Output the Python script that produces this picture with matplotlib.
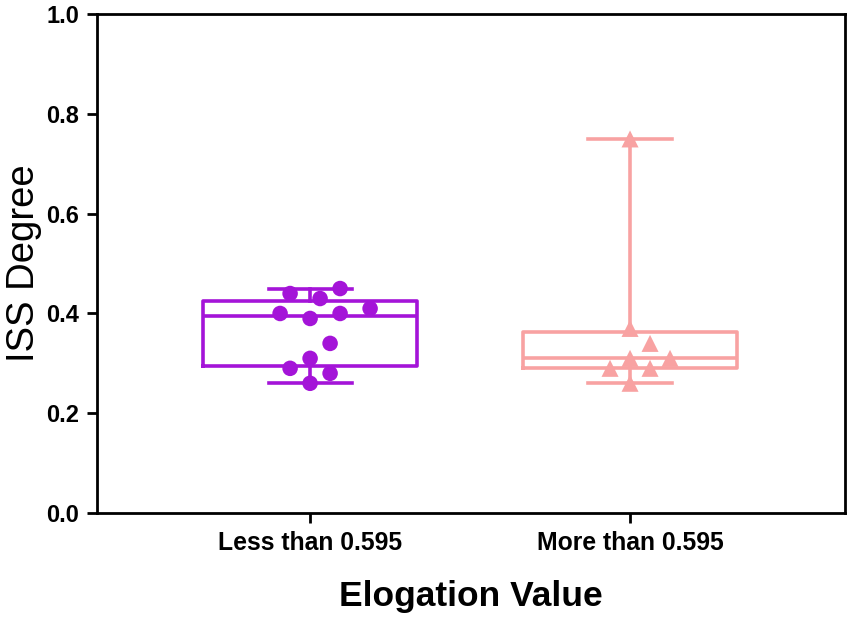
import matplotlib.pyplot as plt
import numpy as np

plt.rcParams["font.family"] = ["Liberation Sans", "DejaVu Sans"]

# data
groups = ["Less than 0.595", "More than 0.595"]
less_values = [0.26, 0.28, 0.29, 0.31, 0.34, 0.39, 0.40, 0.40, 0.41, 0.43, 0.44, 0.45]
more_values = [0.26, 0.29, 0.29, 0.31, 0.31, 0.34, 0.37, 0.75]
series = [less_values, more_values]

colors = ["#A414D8", "#F8A2A2"]
markers = ["o", "^"]


def box_stats(vals, label):
    # GraphPad style quartiles, whiskers at min/max
    q1, med, q3 = np.percentile(vals, [25, 50, 75], method="weibull")
    return dict(label=label, med=med, q1=q1, q3=q3,
                whislo=min(vals), whishi=max(vals), fliers=[])


def swarm(vals, ax, diam_px, step_px):
    # simple beeswarm: place each point at the nearest free x offset
    trans = ax.transData
    px_per_y = trans.transform((0, 1))[1] - trans.transform((0, 0))[1]
    px_per_x = trans.transform((1, 0))[0] - trans.transform((0, 0))[0]
    placed = []
    offsets = []
    for v in vals:
        y = v * px_per_y
        k = 0
        while True:
            cands = [0] if k == 0 else [k, -k]
            done = False
            for c in cands:
                x = c * step_px
                if all((x - px) ** 2 + (y - py) ** 2 >= diam_px ** 2 for px, py in placed):
                    placed.append((x, y))
                    offsets.append(x / px_per_x)
                    done = True
                    break
            if done:
                break
            k += 1
    return np.array(offsets)


fig = plt.figure(figsize=(8.51, 6.21), dpi=100)
ax = fig.add_axes([0.114, 0.174, 0.879, 0.803])

positions = [1, 2]
ax.set_xlim(0.334, 2.672)
ax.set_ylim(0, 1.0)

for i, vals in enumerate(series):
    st = box_stats(vals, groups[i])
    c = colors[i]
    ax.bxp([st], positions=[positions[i]], widths=0.67, showfliers=False,
           boxprops=dict(color=c, linewidth=2.6),
           medianprops=dict(color=c, linewidth=2.6),
           whiskerprops=dict(color=c, linewidth=2.6),
           capprops=dict(color=c, linewidth=2.6),
           capwidths=0.26)
    offs = swarm(vals, ax, diam_px=21, step_px=10)
    ax.scatter(positions[i] + offs, vals, s=125 if i == 0 else 150,
               marker=markers[i], color=c, edgecolor="none", zorder=3)

ax.set_xticks(positions)
ax.set_xticklabels(groups, fontsize=17.8, fontweight="bold")
ax.set_yticks(np.arange(0, 1.01, 0.2))
ax.set_yticklabels([f"{t:.1f}" for t in np.arange(0, 1.01, 0.2)],
                   fontsize=17, fontweight="bold")

ax.tick_params(axis="both", direction="out", length=7, width=2, pad=6)
for sp in ax.spines.values():
    sp.set_linewidth(2)

ax.set_ylabel("ISS Degree", fontsize=27.5, labelpad=3)
ax.set_xlabel("Elogation Value", fontsize=25.5, fontweight="bold", labelpad=18)

fig.savefig("out.png", dpi=100)
